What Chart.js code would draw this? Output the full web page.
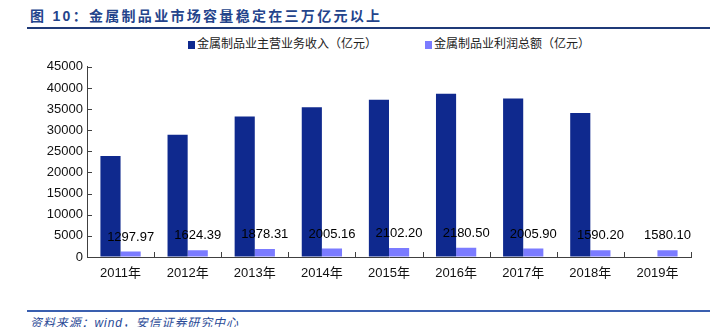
<!DOCTYPE html>
<html lang="zh-CN">
<head>
    <meta charset="UTF-8">
    <title>金属制品业市场容量</title>
    <script src="https://cdn.jsdelivr.net/npm/chart.js"></script>
    <style>
        body {
            margin: 0;
            width: 720px;
            height: 327px;
            position: relative;
            background: #fff;
            font-family: 'Liberation Sans', 'Noto Sans CJK SC', sans-serif;
            overflow: hidden;
        }
        .title {
            position: absolute;
            left: 30px;
            top: 5px;
            font-size: 14px;
            font-weight: bold;
            color: #24448c;
            letter-spacing: 2.3px;
            white-space: nowrap;
        }
        .rule-top {
            position: absolute;
            left: 27px;
            top: 27px;
            width: 683px;
            height: 2px;
            background: #1f3a78;
        }
        .legend {
            position: absolute;
            top: 35px;
            font-size: 12px;
            color: #222;
            font-family: 'Noto Sans CJK SC', sans-serif;
            white-space: nowrap;
            line-height: 16px;
        }
        .legend span.box {
            display: inline-block;
            width: 7px;
            height: 8px;
            margin-right: 2px;
            vertical-align: -1px;
        }
        .chart-box {
            position: absolute;
            left: 0;
            top: 55px;
            width: 720px;
            height: 230px;
        }
        .rule-bottom {
            position: absolute;
            left: 27px;
            top: 310px;
            width: 683px;
            height: 1.5px;
            background: #3a5faf;
        }
        .source {
            position: absolute;
            left: 30px;
            top: 313px;
            font-size: 12px;
            font-style: italic;
            color: #2a4a96;
            letter-spacing: 0.9px;
            white-space: nowrap;
        }
    </style>
</head>
<body>
    <div class="title">图 10：金属制品业市场容量稳定在三万亿元以上</div>
    <div class="rule-top"></div>

    <div class="legend" style="left:188px"><span class="box" style="background:#0f298e"></span>金属制品业主营业务收入（亿元）</div>
    <div class="legend" style="left:425px"><span class="box" style="background:#7b7bff"></span>金属制品业利润总额（亿元）</div>

    <div class="chart-box">
        <canvas id="metalChart"></canvas>
    </div>

    <div class="rule-bottom"></div>
    <div class="source">资料来源：wind，安信证券研究中心</div>

    <script>
        const years = ['2011年', '2012年', '2013年', '2014年', '2015年', '2016年', '2017年', '2018年', '2019年'];
        const revenue = [23900, 28950, 33250, 35450, 37200, 38600, 37500, 34050, null];
        const profit = [1297.97, 1624.39, 1878.31, 2005.16, 2102.20, 2180.50, 2005.90, 1590.20, 1580.10];
        const profitLabels = ['1297.97', '1624.39', '1878.31', '2005.16', '2102.20', '2180.50', '2005.90', '1590.20', '1580.10'];

        const axisColor = '#404040';

        // inward tick marks on both axes
        const innerTicks = {
            id: 'innerTicks',
            afterDraw(chart) {
                const ctx = chart.ctx;
                const xs = chart.scales.x;
                const ys = chart.scales.y;
                ctx.save();
                ctx.strokeStyle = axisColor;
                ctx.lineWidth = 1;
                ctx.beginPath();
                ys.ticks.forEach(t => {
                    const y = Math.round(ys.getPixelForValue(t.value)) + 0.5;
                    ctx.moveTo(xs.left, y);
                    ctx.lineTo(xs.left + 5, y);
                });
                const step = (xs.right - xs.left) / years.length;
                for (let i = 1; i <= years.length; i++) {
                    const x = Math.round(xs.left + step * i) + 0.5;
                    ctx.moveTo(x, ys.bottom);
                    ctx.lineTo(x, ys.bottom - 5);
                }
                ctx.stroke();
                ctx.restore();
            }
        };

        const profitValues = {
            id: 'profitValues',
            afterDatasetsDraw(chart) {
                const ctx = chart.ctx;
                const meta = chart.getDatasetMeta(1);
                ctx.save();
                ctx.font = '13px "Liberation Sans", Arial, sans-serif';
                ctx.fillStyle = '#000';
                ctx.textAlign = 'center';
                ctx.textBaseline = 'middle';
                meta.data.forEach((bar, i) => {
                    ctx.fillText(profitLabels[i], bar.x, bar.y - 14.5);
                });
                ctx.restore();
            }
        };

        new Chart(document.getElementById('metalChart'), {
            type: 'bar',
            data: {
                labels: years,
                datasets: [{
                    label: '金属制品业主营业务收入（亿元）',
                    data: revenue,
                    backgroundColor: '#0f298e',
                    categoryPercentage: 0.6,
                    barPercentage: 1.0
                }, {
                    label: '金属制品业利润总额（亿元）',
                    data: profit,
                    backgroundColor: '#7b7bff',
                    categoryPercentage: 0.6,
                    barPercentage: 1.0
                }]
            },
            options: {
                responsive: true,
                maintainAspectRatio: false,
                animation: false,
                layout: {
                    padding: { top: 10, right: 29, left: 0, bottom: 0 }
                },
                plugins: {
                    legend: { display: false },
                    tooltip: { enabled: false }
                },
                scales: {
                    x: {
                        grid: { display: true, drawOnChartArea: false, drawTicks: false },
                        border: { display: true, color: axisColor, width: 1 },
                        ticks: {
                            color: '#111',
                            padding: 9,
                            maxRotation: 0,
                            font: { size: 13, family: '"Liberation Sans", "Noto Sans CJK SC", sans-serif' }
                        },
                        afterFit(scale) { scale.height = 28; }
                    },
                    y: {
                        min: 0,
                        max: 45000,
                        grid: { display: true, drawOnChartArea: false, drawTicks: false },
                        border: { display: true, color: axisColor, width: 1 },
                        ticks: {
                            stepSize: 5000,
                            color: '#111',
                            padding: 4,
                            font: { size: 13, family: '"Liberation Sans", Arial, sans-serif' },
                            callback: v => String(v)
                        },
                        afterFit(scale) { scale.width = 87; }
                    }
                }
            },
            plugins: [innerTicks, profitValues]
        });
    </script>
</body>
</html>
